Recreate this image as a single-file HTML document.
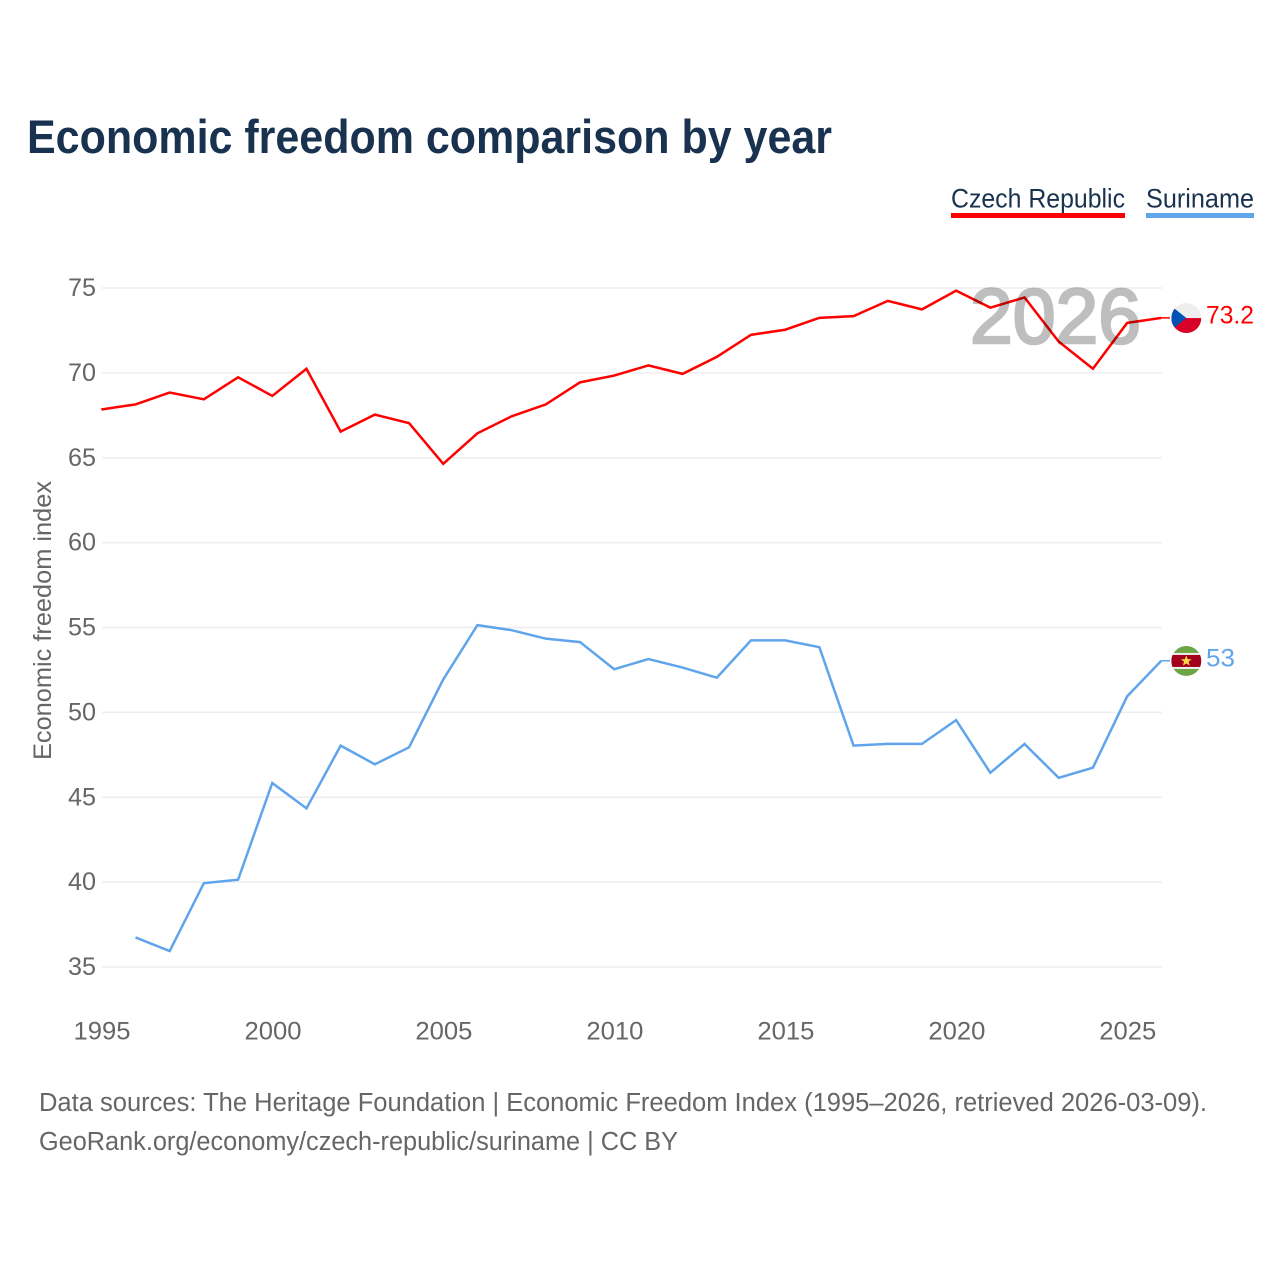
<!DOCTYPE html>
<html lang="en">
<head>
<meta charset="utf-8">
<title>Economic freedom comparison by year</title>
<style>
html,body{margin:0;padding:0;background:#fff;}
svg{display:block;font-family:"Liberation Sans",sans-serif;}
</style>
</head>
<body>
<svg id="chart" xmlns="http://www.w3.org/2000/svg" width="1280" height="1280" viewBox="0 0 1280 1280">
  <defs>
    <clipPath id="flag-clip"><circle cx="0" cy="0" r="15"/></clipPath>
  </defs>
  <rect x="0" y="0" width="1280" height="1280" fill="#ffffff"/>
  <text x="27" y="153" font-size="47" font-weight="700" fill="#18324f" textLength="805" lengthAdjust="spacingAndGlyphs">Economic freedom comparison by year</text>

  <g>
    <g>
      <text x="951" y="207.5" font-size="27" fill="#18324f" textLength="174" lengthAdjust="spacingAndGlyphs">Czech Republic</text>
      <rect x="951" y="213" width="174" height="5" fill="#ff0000"/>
    </g>
    <g>
      <text x="1146" y="207.5" font-size="27" fill="#18324f" textLength="108" lengthAdjust="spacingAndGlyphs">Suriname</text>
      <rect x="1146" y="213" width="108" height="5" fill="#60a5ec"/>
    </g>
  </g>

  <g id="grid"></g>
  <g id="y-ticks"></g>
  <g id="x-ticks"></g>
  <text transform="translate(51,760) rotate(-90)" x="0" y="0" font-size="25" fill="#666666" textLength="279" lengthAdjust="spacingAndGlyphs">Economic freedom index</text>

  <g id="series" transform="translate(-0.7,-0.7)"></g>

  <text id="year-watermark" x="970" y="343" font-size="78" font-weight="400" fill="#000000" stroke="#000000" stroke-width="2.6" opacity="0.25" textLength="171" lengthAdjust="spacingAndGlyphs">2026</text>

  <g id="end-markers"></g>

  <text x="39" y="1111" font-size="25.5" fill="#666666" textLength="1168" lengthAdjust="spacingAndGlyphs">Data sources: The Heritage Foundation | Economic Freedom Index (1995–2026, retrieved 2026-03-09).</text>
  <text x="39" y="1150" font-size="25.5" fill="#666666" textLength="639" lengthAdjust="spacingAndGlyphs">GeoRank.org/economy/czech-republic/suriname | CC BY</text>
</svg>

<script>
const years = [1995,1996,1997,1998,1999,2000,2001,2002,2003,2004,2005,2006,2007,2008,2009,2010,2011,2012,2013,2014,2015,2016,2017,2018,2019,2020,2021,2022,2023,2024,2025,2026];
const czechValues = [67.8,68.1,68.8,68.4,69.7,68.6,70.2,66.5,67.5,67.0,64.6,66.4,67.4,68.1,69.4,69.8,70.4,69.9,70.9,72.2,72.5,73.2,73.3,74.2,73.7,74.8,73.8,74.4,71.8,70.2,72.9,73.2];
const surinameValues = [null,36.7,35.9,39.9,40.1,45.8,44.3,48.0,46.9,47.9,51.9,55.1,54.8,54.3,54.1,52.5,53.1,52.6,52.0,54.2,54.2,53.8,48.0,48.1,48.1,49.5,46.4,48.1,46.1,46.7,50.9,53];
const yTickLabels = [35,40,45,50,55,60,65,70,75];
const xTickLabels = [1995,2000,2005,2010,2015,2020,2025];

const NS = 'http://www.w3.org/2000/svg';
function xScale(year) { return 102 + (year - 1995) * (1060 / 31); }
function yScale(value) { return 967 - (value - 35) * (679 / 40); }
function make(tag, attrs, parent) {
  const el = document.createElementNS(NS, tag);
  for (const k in attrs) el.setAttribute(k, attrs[k]);
  parent.appendChild(el);
  return el;
}

const gridGroup = document.getElementById('grid');
const yTickGroup = document.getElementById('y-ticks');
const xTickGroup = document.getElementById('x-ticks');
const seriesGroup = document.getElementById('series');
const markerGroup = document.getElementById('end-markers');

yTickLabels.forEach(function (tick) {
  const line = make('line', {x1: 102, x2: 1162, y1: yScale(tick), y2: yScale(tick), stroke: '#eeeeee', 'stroke-width': 1.5}, gridGroup);
  
  
  const label = make('text', {x: 96, y: yScale(tick) + 8, 'font-size': 25, fill: '#666666', 'text-anchor': 'end', textLength: 28, lengthAdjust: 'spacingAndGlyphs'}, yTickGroup);
  
  
  label.textContent = tick;
});

xTickLabels.forEach(function (tick) {
  const label = make('text', {x: xScale(tick), y: 1039.5, 'font-size': 25, fill: '#666666', 'text-anchor': 'middle', textLength: 57, lengthAdjust: 'spacingAndGlyphs'}, xTickGroup);
  
  
  label.textContent = tick;
});

function linePath(values) {
  let d = '';
  values.forEach(function (v, i) {
    if (v === null) return;
    d += (d ? 'L' : 'M') + xScale(years[i]).toFixed(2) + ' ' + yScale(v).toFixed(2);
  });
  return d;
}

const czechLine = make('path', {d: linePath(czechValues), fill: 'none', stroke: '#ff0000', 'stroke-width': 2.5, 'stroke-linejoin': 'miter'}, seriesGroup);


const surinameLine = make('path', {d: linePath(surinameValues), fill: 'none', stroke: '#60a5ec', 'stroke-width': 2.5, 'stroke-linejoin': 'miter'}, seriesGroup);



const lastX = xScale(years[years.length - 1]);
const czechLast = czechValues[czechValues.length - 1];
const surinameLast = surinameValues[surinameValues.length - 1];

const czechConnector = make('line', {x1: lastX - 0.7, x2: lastX + 8, y1: yScale(czechLast) - 0.7, y2: yScale(czechLast) - 0.7, stroke: '#ff0000', 'stroke-width': 1.5}, markerGroup);


const surinameConnector = make('line', {x1: lastX - 0.7, x2: lastX + 8, y1: yScale(surinameLast) - 0.7, y2: yScale(surinameLast) - 0.7, stroke: '#60a5ec', 'stroke-width': 1.5}, markerGroup);



const czechFlag = make('g', {transform: 'translate(' + (lastX + 24.3) + ',' + (yScale(czechLast) - 0.5) + ')', 'clip-path': 'url(#flag-clip)'}, markerGroup);


make('rect', {x: -15, y: -15, width: 30, height: 15, fill: '#eeeeee'}, czechFlag);
make('rect', {x: -15, y: 0, width: 30, height: 15, fill: '#d80027'}, czechFlag);
make('polygon', {points: '-15,-12 0,0 -15,12', fill: '#0052b4'}, czechFlag);

const surinameFlag = make('g', {transform: 'translate(' + (lastX + 24.3) + ',' + (yScale(surinameLast) - 0.5) + ')', 'clip-path': 'url(#flag-clip)'}, markerGroup);


make('rect', {x: -15, y: -15, width: 30, height: 30, fill: '#6da544'}, surinameFlag);
make('rect', {x: -15, y: -8, width: 30, height: 16, fill: '#eeeeee'}, surinameFlag);
make('rect', {x: -15, y: -6, width: 30, height: 12, fill: '#a2001d'}, surinameFlag);
make('polygon', {points: '0,-5.5 1.5,-1.7 5.5,-1.7 2.3,0.7 3.4,4.7 0,2.4 -3.4,4.7 -2.3,0.7 -5.5,-1.7 -1.5,-1.7', fill: '#ffda44'}, surinameFlag);

const czechValueLabel = make('text', {x: 1206, y: yScale(czechLast) + 5, 'font-size': 25, fill: '#ff0000', textLength: 48, lengthAdjust: 'spacingAndGlyphs'}, markerGroup);


czechValueLabel.textContent = czechLast;
const surinameValueLabel = make('text', {x: 1206, y: yScale(surinameLast) + 5, 'font-size': 25, fill: '#60a5ec', textLength: 29, lengthAdjust: 'spacingAndGlyphs'}, markerGroup);


surinameValueLabel.textContent = surinameLast;
</script>
</body>
</html>
